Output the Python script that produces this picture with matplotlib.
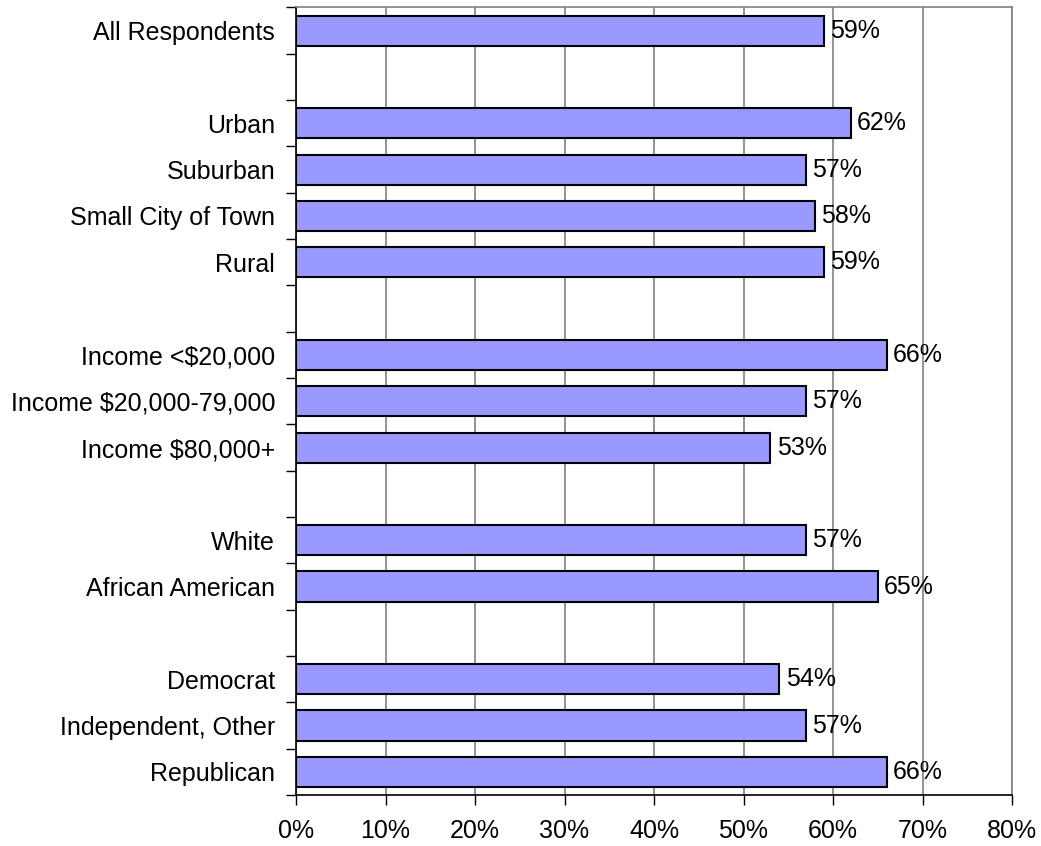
import numpy as np
import matplotlib.pyplot as plt

# categories top to bottom, "" = spacer row between groups
labels = ["All Respondents", "",
          "Urban", "Suburban", "Small City of Town", "Rural", "",
          "Income <$20,000", "Income $20,000-79,000", "Income $80,000+", "",
          "White", "African American", "",
          "Democrat", "Independent, Other", "Republican"]
values = [59, np.nan,
          62, 57, 58, 59, np.nan,
          66, 57, 53, np.nan,
          57, 65, np.nan,
          54, 57, 66]
xticks = [0, 10, 20, 30, 40, 50, 60, 70, 80]

plt.rcParams['font.family'] = ['Liberation Sans', 'DejaVu Sans']
FS = 18

fig = plt.figure(figsize=(10.41, 8.46), dpi=100)
ax = fig.add_axes([296 / 1041, 1 - 795 / 846, (1012 - 296) / 1041, (795 - 7.5) / 846])

y = np.arange(len(labels))
vals = np.array(values, dtype=float)
ax.barh(y, vals, height=0.65, color="#9999FF", edgecolor="black", linewidth=1.5, zorder=3)

for yi, v in zip(y, vals):
    if not np.isnan(v):
        ax.text(v + 0.7, yi, f"{v:.0f}%", va="center", ha="left", fontsize=FS, zorder=4)

ax.set_xlim(0, 80)
ax.set_ylim(len(labels) - 0.5, -0.5)
ax.set_xticks(xticks)
ax.set_xticklabels([f"{t}%" for t in xticks], fontsize=FS)
ax.tick_params(axis="x", length=7, width=1, pad=10, colors="black")

ax.set_yticks(y)
ax.set_yticklabels(labels, fontsize=FS)
ax.tick_params(axis="y", which="major", length=0, pad=15)
ax.set_yticks(np.arange(-0.5, len(labels)), minor=True)
ax.tick_params(axis="y", which="minor", length=7, width=1)

ax.grid(axis="x", color="#808080", linewidth=1.2, zorder=0)
ax.set_axisbelow(True)
for s in ["top", "right"]:
    ax.spines[s].set_color("#808080")
    ax.spines[s].set_linewidth(1.2)
for s in ["left", "bottom"]:
    ax.spines[s].set_color("black")
    ax.spines[s].set_linewidth(1.2)

fig.savefig("out.png", dpi=100)
